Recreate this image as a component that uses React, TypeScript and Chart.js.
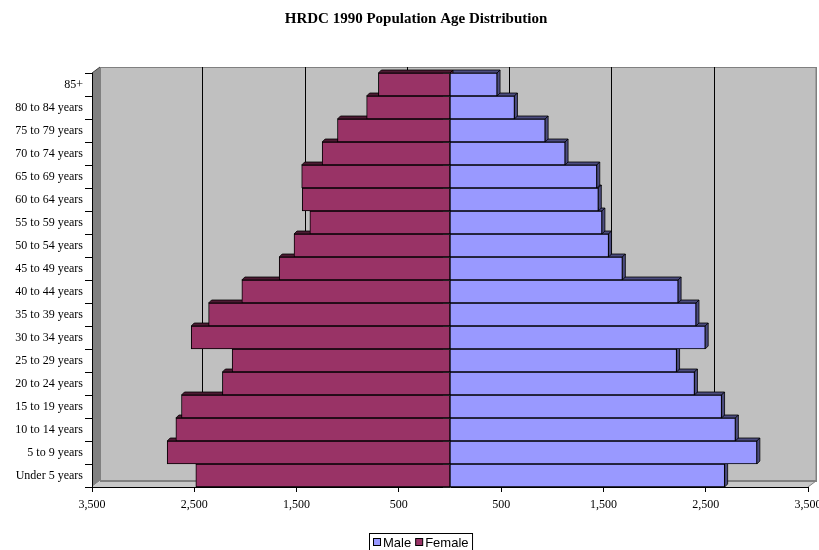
import React, { useEffect, useRef } from "react";
import { Chart, registerables } from "chart.js";

Chart.register(...registerables);

// ---- data (bottom to top) ----
const ageGroups = [
  "Under 5 years",
  "5 to 9 years",
  "10 to 14 years",
  "15 to 19 years",
  "20 to 24 years",
  "25 to 29 years",
  "30 to 34 years",
  "35 to 39 years",
  "40 to 44 years",
  "45 to 49 years",
  "50 to 54 years",
  "55 to 59 years",
  "60 to 64 years",
  "65 to 69 years",
  "70 to 74 years",
  "75 to 79 years",
  "80 to 84 years",
  "85+",
];
const maleValues = [2685, 3000, 2790, 2655, 2390, 2215, 2495, 2405, 2230, 1685, 1550, 1485, 1450, 1435, 1125, 930, 630, 460];
const femaleValues = [2485, 2765, 2680, 2625, 2225, 2130, 2530, 2360, 2035, 1670, 1525, 1370, 1445, 1450, 1250, 1100, 815, 700];
const xTickValues = [-3500, -2500, -1500, -500, 500, 1500, 2500, 3500];
const chartTitle = "HRDC 1990 Population Age Distribution";
const seriesNames = ["Male", "Female"];
const seriesColors = ["#9999FF", "#993366"];
const seriesDepthColors = ["#4C4C80", "#4D1A33"];

const WALL_DX = 8;
const WALL_DY = 6;
const BAR_DX = 3;
const BAR_DY = 3;

const threeDPlugin = {
  id: "threeD",
  beforeDraw(chart: any) {
    const { ctx, chartArea } = chart;
    const L = chartArea.left, R = chartArea.right, T = chartArea.top, B = chartArea.bottom;
    ctx.save();
    // back wall
    ctx.fillStyle = "#C0C0C0";
    ctx.fillRect(L + WALL_DX, T - WALL_DY, R - L, B - T);
    ctx.strokeStyle = "#808080";
    ctx.lineWidth = 1;
    ctx.strokeRect(L + WALL_DX + 0.5, T - WALL_DY + 0.5, R - L, B - T);
    // left side wall
    ctx.fillStyle = "#808080";
    ctx.beginPath();
    ctx.moveTo(L, T);
    ctx.lineTo(L + WALL_DX, T - WALL_DY);
    ctx.lineTo(L + WALL_DX, B - WALL_DY);
    ctx.lineTo(L, B);
    ctx.closePath();
    ctx.fill();
    ctx.strokeStyle = "#404040";
    ctx.beginPath();
    ctx.moveTo(L, T);
    ctx.lineTo(L + WALL_DX, T - WALL_DY);
    ctx.stroke();
    // floor
    ctx.fillStyle = "#C8C8C8";
    ctx.beginPath();
    ctx.moveTo(L, B);
    ctx.lineTo(L + WALL_DX, B - WALL_DY);
    ctx.lineTo(R + WALL_DX, B - WALL_DY);
    ctx.lineTo(R, B);
    ctx.closePath();
    ctx.fill();
    ctx.strokeStyle = "#808080";
    ctx.lineWidth = 2;
    ctx.beginPath();
    ctx.moveTo(L + WALL_DX, B - WALL_DY);
    ctx.lineTo(R + WALL_DX, B - WALL_DY);
    ctx.stroke();
    ctx.lineWidth = 1;
    ctx.strokeStyle = "#808080";
    ctx.beginPath();
    ctx.moveTo(R, B);
    ctx.lineTo(R + WALL_DX, B - WALL_DY);
    ctx.lineTo(R + WALL_DX, T - WALL_DY);
    ctx.stroke();
    // gridlines on back wall
    const xs = chart.scales.x;
    ctx.strokeStyle = "#000000";
    ctx.lineWidth = 1;
    xTickValues.forEach((v) => {
      if (v === xTickValues[0] || v === xTickValues[xTickValues.length - 1]) return;
      const px = Math.round(xs.getPixelForValue(v) + WALL_DX) + 0.5;
      ctx.beginPath();
      ctx.moveTo(px, T - WALL_DY);
      ctx.lineTo(px, B - WALL_DY);
      ctx.stroke();
    });
    ctx.restore();
  },
  beforeDatasetsDraw(chart: any) {
    const { ctx } = chart;
    ctx.save();
    ctx.strokeStyle = "#000000";
    ctx.lineWidth = 0.8;
    chart.data.datasets.forEach((ds: any, di: number) => {
      const meta = chart.getDatasetMeta(di);
      meta.data.forEach((el: any) => {
        const p = el.getProps(["x", "y", "base", "height"], true);
        const left = Math.min(p.x, p.base);
        const right = Math.max(p.x, p.base);
        const top = p.y - p.height / 2;
        const bottom = p.y + p.height / 2;
        ctx.fillStyle = seriesDepthColors[di];
        // top face
        ctx.beginPath();
        ctx.moveTo(left, top);
        ctx.lineTo(left + BAR_DX, top - BAR_DY);
        ctx.lineTo(right + BAR_DX, top - BAR_DY);
        ctx.lineTo(right, top);
        ctx.closePath();
        ctx.fill();
        ctx.stroke();
        // right side face
        ctx.beginPath();
        ctx.moveTo(right, top);
        ctx.lineTo(right + BAR_DX, top - BAR_DY);
        ctx.lineTo(right + BAR_DX, bottom - BAR_DY);
        ctx.lineTo(right, bottom);
        ctx.closePath();
        ctx.fill();
        ctx.stroke();
      });
    });
    ctx.restore();
  },
  afterDatasetsDraw(chart: any) {
    const { ctx } = chart;
    const xs = chart.scales.x;
    const ys = chart.scales.y;
    const x0 = Math.round(xs.getPixelForValue(0));
    ctx.save();
    ctx.strokeStyle = "#202020";
    ctx.lineWidth = 1;
    const n = ageGroups.length;
    for (let i = 0; i <= n; i++) {
      const py = Math.round(ys.getPixelForValue(i - 0.5)) + 0.5;
      ctx.beginPath();
      ctx.moveTo(x0 - 7, py);
      ctx.lineTo(x0, py);
      ctx.stroke();
    }
    ctx.restore();
  },
  afterDraw(chart: any) {
    const { ctx } = chart;
    ctx.save();
    // title
    ctx.fillStyle = "#000";
    ctx.font = "bold 15px 'Liberation Serif', 'Times New Roman', serif";
    ctx.textAlign = "center";
    ctx.textBaseline = "middle";
    ctx.fillText(chartTitle, 416, 19);
    // legend
    ctx.font = "13px 'Liberation Sans', Arial, sans-serif";
    ctx.textAlign = "left";
    ctx.textBaseline = "alphabetic";
    let x = 373;
    const boxLeft = 369.5;
    const items: { name: string; color: string; x: number; w: number }[] = [];
    seriesNames.forEach((name, i) => {
      const w = ctx.measureText(name).width;
      items.push({ name, color: seriesColors[i], x, w });
      x += 8 + 2 + w + 4;
    });
    const boxRight = x - 4 + 4;
    ctx.fillStyle = "#FFFFFF";
    ctx.fillRect(boxLeft, 533.5, boxRight - boxLeft, 22);
    ctx.strokeStyle = "#000";
    ctx.lineWidth = 1;
    ctx.strokeRect(boxLeft, 533.5, boxRight - boxLeft, 22);
    items.forEach((it) => {
      ctx.fillStyle = it.color;
      ctx.fillRect(it.x + 0.5, 538.5, 7, 7);
      ctx.strokeStyle = "#000";
      ctx.strokeRect(it.x + 0.5, 538.5, 7, 7);
      ctx.fillStyle = "#000";
      ctx.fillText(it.name, it.x + 10, 547);
    });
    ctx.restore();
  },
};

export default function App() {
  const canvasRef = useRef<HTMLCanvasElement | null>(null);

  useEffect(() => {
    if (!canvasRef.current) return;
    const serif = "'Liberation Serif', 'Times New Roman', serif";
    const chart = new Chart(canvasRef.current, {
      type: "bar",
      data: {
        labels: ageGroups,
        datasets: [
          {
            label: seriesNames[0],
            data: maleValues,
            backgroundColor: seriesColors[0],
            borderColor: "#000000",
            borderWidth: 1,
            borderSkipped: false,
            barPercentage: 1,
            categoryPercentage: 1,
          },
          {
            label: seriesNames[1],
            data: femaleValues.map((v) => -v),
            backgroundColor: seriesColors[1],
            borderColor: "#000000",
            borderWidth: 1,
            borderSkipped: false,
            barPercentage: 1,
            categoryPercentage: 1,
          },
        ],
      },
      options: {
        indexAxis: "y",
        responsive: false,
        animation: false,
        layout: { padding: { top: 73, right: 11, bottom: 0, left: 0 } },
        plugins: {
          legend: { display: false },
          title: { display: false },
          tooltip: { enabled: false },
        },
        scales: {
          x: {
            type: "linear",
            min: -3500,
            max: 3500,
            stacked: true,
            afterBuildTicks: (scale: any) => {
              scale.ticks = xTickValues.map((v) => ({ value: v }));
            },
            afterFit: (scale: any) => {
              scale.height = 63;
              scale.paddingLeft = 0;
              scale.paddingRight = 0;
            },
            ticks: {
              autoSkip: false,
              maxRotation: 0,
              padding: 6,
              color: "#000",
              font: { family: serif, size: 12 },
              callback: (v: any) => Math.abs(Number(v)).toLocaleString("en-US"),
            },
            grid: {
              display: true,
              drawOnChartArea: false,
              drawTicks: true,
              tickLength: 5,
              color: "#000",
            },
            border: { display: true, color: "#000", width: 1 },
          },
          y: {
            type: "category",
            stacked: true,
            reverse: true,
            afterFit: (scale: any) => {
              scale.width = 92;
              scale.paddingTop = 0;
              scale.paddingBottom = 0;
            },
            ticks: {
              autoSkip: false,
              padding: 2,
              color: "#000",
              font: { family: serif, size: 12 },
            },
            grid: {
              display: true,
              drawOnChartArea: false,
              drawTicks: true,
              tickLength: 7,
              offset: true,
              color: "#000",
            },
            border: { display: true, color: "#000", width: 1 },
          },
        },
      } as any,
      plugins: [threeDPlugin],
    });
    return () => chart.destroy();
  }, []);

  return (
    <div style={{ position: "absolute", left: 0, top: 0, width: 819, height: 550, background: "#fff" }}>
      <canvas ref={canvasRef} width={819} height={550} />
    </div>
  );
}
